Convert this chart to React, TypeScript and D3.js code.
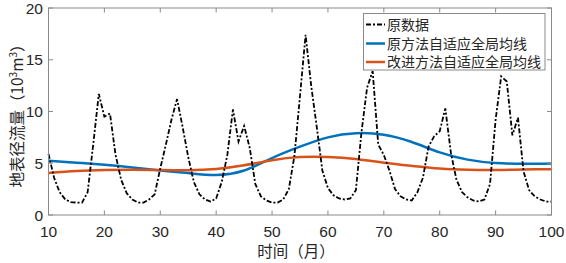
import React from "react";
import * as d3 from "d3";

const months = d3.range(10, 101);
const rawValues = [
  5.9, 3.6, 2.2, 1.5, 1.25, 1.2, 1.2, 2.2, 6.8, 11.7,
  9.5, 9.8, 5.8, 3.4, 2.1, 1.5, 1.2, 1.2, 1.5, 2.0,
  4.5, 6.8, 9.2, 11.2, 8.5, 5.6, 3.2, 2.0, 1.5, 1.3,
  1.6, 3.2, 5.8, 10.2, 7.1, 8.6, 6.5, 3.0, 1.8, 1.4,
  1.2, 1.2, 1.5, 2.5, 5.7, 11.5, 17.4, 12.5, 8.5, 4.3,
  2.6, 1.9, 1.6, 1.5, 1.6, 2.4, 8.0, 12.3, 13.9, 6.8,
  5.8, 4.3, 2.5, 1.8, 1.5, 1.4, 2.2, 3.6, 6.6, 7.6,
  8.1, 10.3, 6.0, 3.4, 2.2, 1.7, 1.4, 1.3, 1.5, 3.0,
  9.2, 13.4, 12.9, 7.7, 9.4, 4.2, 2.4, 1.8, 1.5, 1.3,
  1.3,
];
const smoothMonths = [10, 15, 20, 25, 30, 35, 40, 45, 50, 55, 60, 65, 70, 75, 80, 85, 90, 95, 100];
const originalMethod = [5.25, 5.05, 4.85, 4.6, 4.3, 4.05, 3.87, 4.3, 5.5, 6.6, 7.5, 7.9, 7.75, 7.05, 6.05, 5.35, 5.02, 4.95, 4.98];
const improvedMethod = [4.05, 4.25, 4.35, 4.38, 4.35, 4.33, 4.45, 4.8, 5.3, 5.6, 5.6, 5.4, 5.05, 4.75, 4.5, 4.38, 4.35, 4.4, 4.42];
const xTicks = [10, 20, 30, 40, 50, 60, 70, 80, 90, 100];
const yTicks = [0, 5, 10, 15, 20];
const legendLabels = ["原数据", "原方法自适应全局均线", "改进方法自适应全局均线"];

const W = 566, H = 263;
const L = 48.5, R = 551.5, T = 8, B = 215;
const BLUE = "#0072BD", ORANGE = "#D95319";
const NUM_FONT = "'Liberation Sans', Arial, sans-serif";
const CJK_FONT = "'Noto Sans CJK SC', sans-serif";
const DASH = "5,2,2,2";

export default function App() {
  const x = d3.scaleLinear().domain([10, 100]).range([L, R]);
  const y = d3.scaleLinear().domain([0, 20]).range([B, T]);
  const rawLine = d3.line<number>().x((_, i) => x(months[i])).y((d) => y(d));
  const smoothLine = d3.line<number>().x((_, i) => x(smoothMonths[i])).y((d) => y(d)).curve(d3.curveNatural);
  const axisColor = "#8a8a8a";
  const textColor = "#262626";
  const tickLen = 4.5;
  const legX = 363.5, legY = 13.5, legW = 181.5, legH = 56.5;
  const rowY = [24.5, 43.5, 62];
  const styles = [
    { stroke: "#000", width: 1.8, dash: DASH },
    { stroke: BLUE, width: 2.5, dash: undefined },
    { stroke: ORANGE, width: 2.5, dash: undefined },
  ];
  return (
    <svg width={W} height={H} style={{ position: "absolute", left: 0, top: 0, background: "#fff" }}>
      <rect x={0} y={0} width={W} height={H} fill="#fff" />
      <path d={smoothLine(originalMethod) || ""} fill="none" stroke={BLUE} strokeWidth={2.5} />
      <path d={smoothLine(improvedMethod) || ""} fill="none" stroke={ORANGE} strokeWidth={2.5} />
      <path d={rawLine(rawValues) || ""} fill="none" stroke="#000" strokeWidth={1.8} strokeDasharray={DASH} />
      <rect x={L} y={T} width={R - L} height={B - T} fill="none" stroke={axisColor} strokeWidth={1} />
      {xTicks.map((t) => (
        <g key={"x" + t}>
          <line x1={x(t)} x2={x(t)} y1={B} y2={B - tickLen} stroke={axisColor} />
          <line x1={x(t)} x2={x(t)} y1={T} y2={T + tickLen} stroke={axisColor} />
          <text x={x(t)} y={236.5} textAnchor="middle" fontFamily={NUM_FONT} fontSize={15.5} fill={textColor}>{t}</text>
        </g>
      ))}
      {yTicks.map((t) => (
        <g key={"y" + t}>
          <line x1={L} x2={L + tickLen} y1={y(t)} y2={y(t)} stroke={axisColor} />
          <line x1={R} x2={R - tickLen} y1={y(t)} y2={y(t)} stroke={axisColor} />
          <text x={43} y={y(t) + 5.5} textAnchor="end" fontFamily={NUM_FONT} fontSize={15.5} fill={textColor}>{t}</text>
        </g>
      ))}
      <text x={296} y={257} textAnchor="middle" fontFamily={CJK_FONT} fontSize={15.5} fill={textColor}>时间（月）</text>
      <text transform="translate(23,112) rotate(-90)" textAnchor="middle" fontFamily={CJK_FONT} fontSize={15.5} fill={textColor}>
        地表径流量（10<tspan dy={-6} fontSize={10}>3</tspan><tspan dy={6}>m</tspan><tspan dy={-6} fontSize={10}>3</tspan><tspan dy={6}>）</tspan>
      </text>
      <rect x={legX} y={legY} width={legW} height={legH} fill="#fff" stroke={axisColor} strokeWidth={1} />
      {legendLabels.map((lab, i) => (
        <g key={lab}>
          <line x1={366} x2={385} y1={rowY[i]} y2={rowY[i]} stroke={styles[i].stroke} strokeWidth={styles[i].width} strokeDasharray={styles[i].dash} />
          <text x={387} y={rowY[i] + 5} fontFamily={CJK_FONT} fontSize={14} fill={textColor}>{lab}</text>
        </g>
      ))}
    </svg>
  );
}
